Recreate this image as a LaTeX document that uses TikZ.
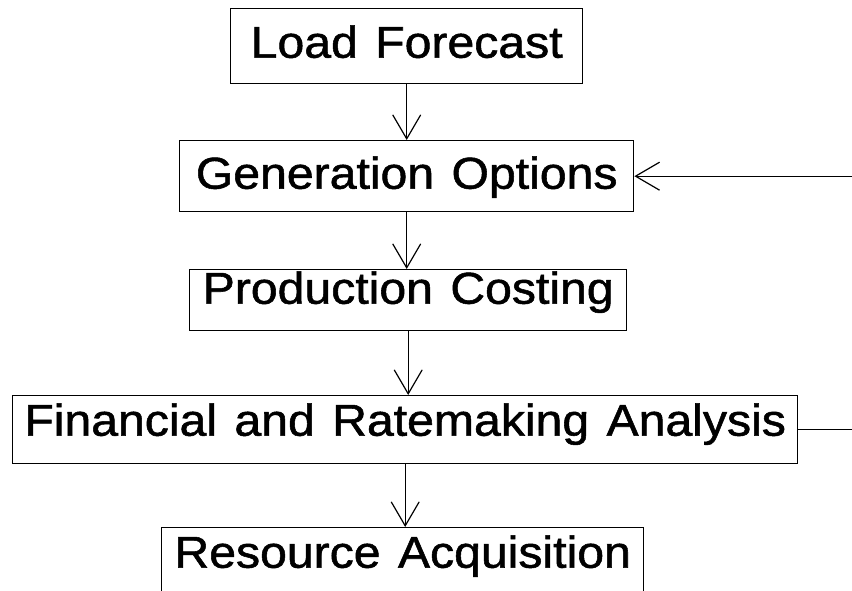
\documentclass[tikz,border=0pt]{standalone}
\usepackage{fontspec}
\newfontfamily\stagefont[FakeStretch=1.08, WordSpace=1.3, FakeBold=1.2]{Liberation Sans}
\usetikzlibrary{arrows.meta}

\tikzset{
    stage/.style={draw=black, line width=1.4pt, anchor=north west, inner xsep=0pt, inner ysep=0pt,
        font=\stagefont\fontsize{44.6}{50}\selectfont},
    flow/.style={line width=1.2pt, -{Straight Barb[length=24pt, width=28pt, line width=1.2pt]}}
}

\begin{document}
\begin{tikzpicture}
            \clip (0pt,0pt) rectangle (852pt,-591pt);
            \coordinate (edge) at (852pt,0pt);
            \node[stage, minimum width=352pt, text height=49pt, text depth=26pt] (load) at (230pt,-8pt) {Load Forecast};
            \node[stage, minimum width=454pt, text height=48pt, text depth=23pt] (gen) at (179pt,-140pt) {Generation Options};
            \node[stage, minimum width=437pt, text height=34pt, text depth=27pt] (prod) at (189pt,-269pt) {Production Costing};
            \node[stage, minimum width=785pt, text height=40pt, text depth=28pt] (fin) at (12pt,-395pt) {Financial and Ratemaking Analysis};
            \node[stage, minimum width=482pt, text height=40pt, text depth=40pt] (res) at (161pt,-527pt) {Resource Acquisition};

            \draw[flow] (load.south) -- (load.south |- gen.north);
            \draw[flow] (gen.south) -- (gen.south |- prod.north);
            \draw[flow] (prod.south) -- (prod.south |- fin.north);
            \draw[flow] (fin.south) -- (fin.south |- res.north);

            % feedback from the analysis back to the options
            \draw[flow] (gen.east -| edge) -- (gen.east);
            \draw[line width=1.2pt] (fin.east) -- (fin.east -| edge);
        \end{tikzpicture}
\end{document}
